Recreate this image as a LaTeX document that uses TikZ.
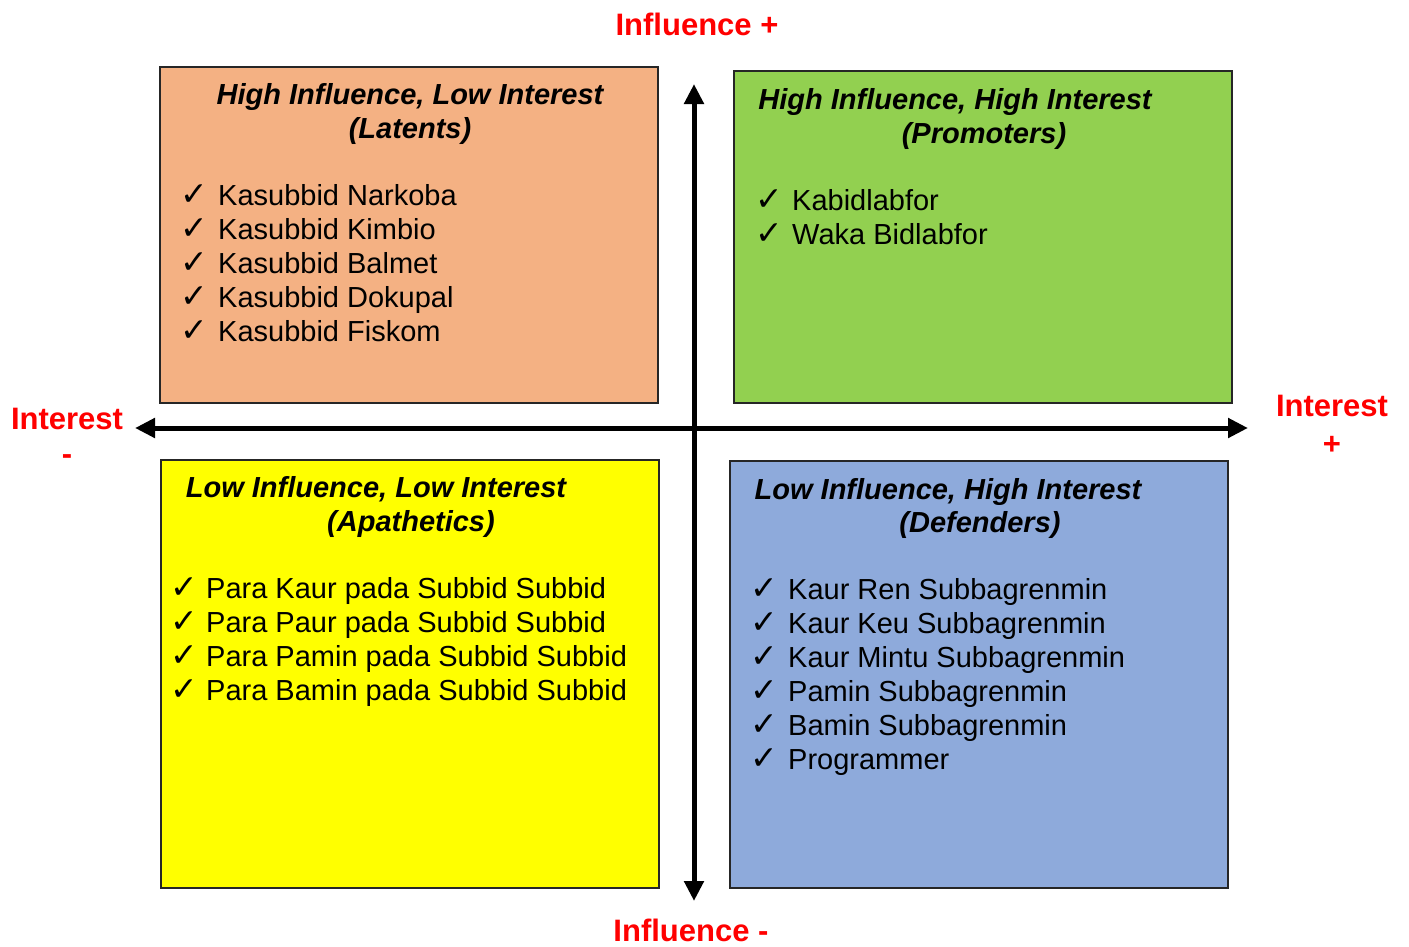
\documentclass[tikz,border=0pt]{standalone}
\usepackage{fontspec}
\setmainfont{Liberation Sans}
\newfontfamily\djv{DejaVu Sans}
\usetikzlibrary{arrows.meta}
\definecolor{qorange}{HTML}{F4B183}
\definecolor{qgreen}{HTML}{92D050}
\definecolor{qyellow}{HTML}{FFFF00}
\definecolor{qblue}{HTML}{8EAADB}
\definecolor{axred}{HTML}{FF0000}
\newcommand{\ck}[1]{\makebox[#1][l]{\djv\fontsize{33}{34}\selectfont ✓}}
\begin{document}
\begin{tikzpicture}[x=1pt,y=-1pt,
  quad/.style={draw=black!85, line width=1.6pt, anchor=north west, inner sep=0pt},
  head/.style={anchor=base, inner sep=0pt, font=\fontsize{29}{34}\selectfont\bfseries\itshape},
  itemlist/.style={anchor=base west, inner sep=0pt, font=\fontsize{29}{34}\selectfont},
  axlabel/.style={anchor=base, inner sep=0pt, text=axred, font=\fontsize{31}{36}\selectfont\bfseries},
  axis/.style={line width=5pt, {Triangle[length=20pt,width=19pt]}-{Triangle[length=20pt,width=19pt]}}]
\useasboundingbox (0,0) rectangle (1409,946);
% quadrants
\node[quad, fill=qorange, minimum width=498pt, minimum height=336pt] (q1) at (159,66) {};
\node[quad, fill=qgreen, minimum width=498pt, minimum height=332pt] (q2) at (733,70) {};
\node[quad, fill=qyellow, minimum width=498pt, minimum height=428pt] (q3) at (160,459) {};
\node[quad, fill=qblue, minimum width=498pt, minimum height=427pt] (q4) at (729,460) {};
% axes
\coordinate (vtop) at (694,84);
\coordinate (vbot) at (694,901);
\coordinate (hleft) at (135,428);
\coordinate (hright) at (1248,428);
\draw[axis] (vbot) -- (vtop);
\draw[axis] (hleft) -- (hright);
% axis labels
\node[axlabel] (lt) at (697,35) {Influence +};
\node[axlabel] (lb) at (691,941) {Influence -};
\node[axlabel] (ll1) at (67,429) {Interest};
\node[axlabel] (ll2) at (67,464) {-};
\node[axlabel] (lr1) at (1332,416) {Interest};
\node[axlabel] (lr2) at (1332,454) {+};
% headers
\node[head] (h1a) at (410,104) {High Influence, Low Interest};
\node[head] (h1b) at (410,138) {(Latents)};
\node[head] (h2a) at (955,109) {High Influence, High Interest};
\node[head] (h2b) at (984,143) {(Promoters)};
\node[head] (h3a) at (376,497) {Low Influence, Low Interest};
\node[head] (h3b) at (411,531) {(Apathetics)};
\node[head] (h4a) at (948,499) {Low Influence, High Interest};
\node[head] (h4b) at (980,532) {(Defenders)};
% lists
\node[itemlist] (l1) at (180,205) {\begin{tabular}[t]{@{}l@{}l@{}}
\ck{38pt} & Kasubbid Narkoba\\
\ck{38pt} & Kasubbid Kimbio\\
\ck{38pt} & Kasubbid Balmet\\
\ck{38pt} & Kasubbid Dokupal\\
\ck{38pt} & Kasubbid Fiskom
\end{tabular}};
\node[itemlist] (l2) at (755,210) {\begin{tabular}[t]{@{}l@{}l@{}}
\ck{37pt} & Kabidlabfor\\
\ck{37pt} & Waka Bidlabfor
\end{tabular}};
\node[itemlist] (l3) at (170,598) {\begin{tabular}[t]{@{}l@{}l@{}}
\ck{36pt} & Para Kaur pada Subbid Subbid\\
\ck{36pt} & Para Paur pada Subbid Subbid\\
\ck{36pt} & Para Pamin pada Subbid Subbid\\
\ck{36pt} & Para Bamin pada Subbid Subbid
\end{tabular}};
\node[itemlist] (l4) at (750,599) {\begin{tabular}[t]{@{}l@{}l@{}}
\ck{38pt} & Kaur Ren Subbagrenmin\\
\ck{38pt} & Kaur Keu Subbagrenmin\\
\ck{38pt} & Kaur Mintu Subbagrenmin\\
\ck{38pt} & Pamin Subbagrenmin\\
\ck{38pt} & Bamin Subbagrenmin\\
\ck{38pt} & Programmer
\end{tabular}};
\end{tikzpicture}
\end{document}
